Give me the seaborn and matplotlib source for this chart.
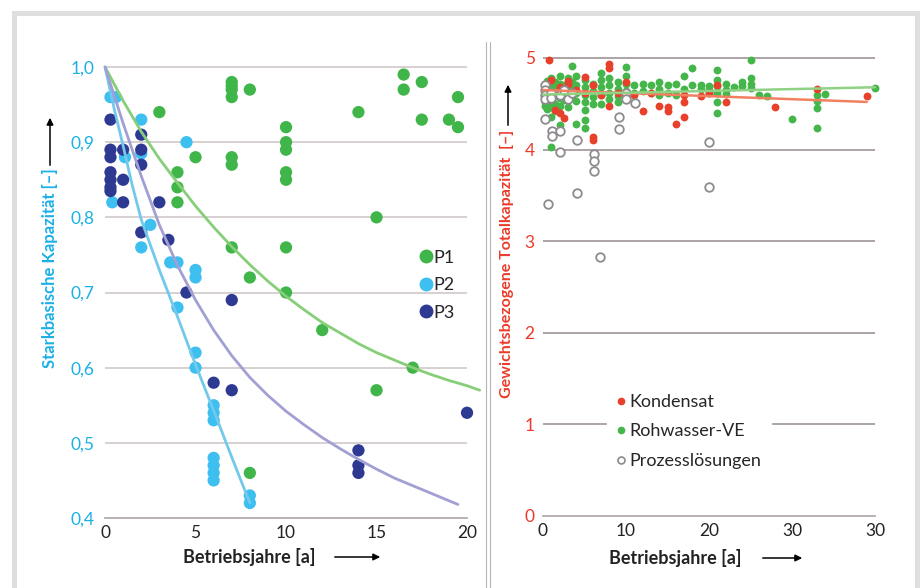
"""Kapazitaet von Anionenaustauschern ueber Betriebsjahre (zwei Panels)."""

import matplotlib
matplotlib.use("Agg")
import matplotlib.pyplot as plt
from matplotlib.lines import Line2D
from matplotlib.patches import Rectangle
import pandas as pd
import seaborn as sns

# ---- linkes Panel: starkbasische Kapazitaet ----
p1_x = [7, 7, 7, 7, 8, 3, 10, 10, 10, 5, 7, 7, 4, 4, 4, 10, 10, 7, 10,
        16.5, 16.5, 17.5, 14, 17.5, 19, 19.5, 19.5, 15, 8, 10, 8, 12, 17, 15]
p1_y = [0.98, 0.975, 0.97, 0.96, 0.97, 0.94, 0.92, 0.90, 0.89, 0.88, 0.88, 0.87,
        0.86, 0.84, 0.82, 0.86, 0.85, 0.76, 0.76,
        0.99, 0.97, 0.98, 0.94, 0.93, 0.93, 0.96, 0.92, 0.80, 0.72, 0.70, 0.46,
        0.65, 0.60, 0.57]

p2_x = [0.3, 0.6, 2, 4.5, 1.1, 2, 0.4, 2.5, 2, 3.6, 4, 5, 5, 4, 5, 5,
        6, 6, 6, 6, 6, 6, 6, 8, 8]
p2_y = [0.96, 0.96, 0.93, 0.90, 0.88, 0.885, 0.82, 0.79, 0.76, 0.74, 0.74,
        0.73, 0.72, 0.68, 0.62, 0.60, 0.55, 0.54, 0.53, 0.48, 0.47, 0.46,
        0.45, 0.43, 0.42]

p3_x = [0.3, 2, 0.3, 0.3, 0.3, 0.3, 0.3, 0.3, 1, 2, 2, 1, 1, 3, 2, 3.5,
        4.5, 7, 6, 7, 14, 14, 14, 20]
p3_y = [0.93, 0.91, 0.89, 0.88, 0.86, 0.85, 0.84, 0.835, 0.89, 0.89, 0.87,
        0.85, 0.82, 0.82, 0.78, 0.77, 0.70, 0.69, 0.58, 0.57, 0.49, 0.47,
        0.46, 0.54]

# Ausgleichskurven
fit1_x = [0, 1, 2, 3, 4, 5, 6, 7, 8, 9, 10, 11, 12, 13, 14, 15, 16, 17, 18,
          19, 20, 20.7]
fit1_y = [1.0, 0.955, 0.914, 0.878, 0.846, 0.815, 0.787, 0.761, 0.737, 0.715,
          0.695, 0.677, 0.660, 0.646, 0.632, 0.620, 0.610, 0.600, 0.591,
          0.583, 0.576, 0.570]
fit2_x = [0, 0.5, 1, 1.5, 2, 3, 4, 5, 6, 7, 8]
fit2_y = [1.0, 0.945, 0.895, 0.843, 0.797, 0.730, 0.668, 0.604, 0.543,
          0.481, 0.420]
fit3_x = [0, 1, 2, 3, 4, 5, 6, 7, 8, 9, 10, 11, 12, 13, 14, 15, 16, 17, 18,
          19, 19.5]
fit3_y = [1.0, 0.925, 0.855, 0.790, 0.736, 0.690, 0.650, 0.616, 0.587, 0.563,
          0.542, 0.524, 0.507, 0.492, 0.478, 0.465, 0.453, 0.443, 0.433,
          0.423, 0.418]

left_yticks = [0.4, 0.5, 0.6, 0.7, 0.8, 0.9, 1.0]
left_yticklabels = ["0,4", "0,5", "0,6", "0,7", "0,8", "0,9", "1,0"]
left_xticks = [0, 5, 10, 15, 20]

# ---- rechtes Panel: gewichtsbezogene Totalkapazitaet ----
rve_x = [0.2, 0.2, 0.2, 0.2, 0.2, 0.2, 0.2,
         0.5, 0.5, 0.5, 0.5, 0.5,
         1, 1, 1, 1, 1, 1, 1,
         1.5, 1.5, 1.5, 1.5, 1.5,
         2, 2, 2, 2, 2, 2,
         2.5, 2.5, 2.5,
         3, 3, 3, 3, 3,
         3.5, 3.5, 3.5, 3.5,
         4, 4, 4, 4, 4,
         5, 5, 5, 5, 5, 5, 5,
         6, 6, 6, 6,
         7, 7, 7, 7, 7,
         8, 8, 8, 8,
         9, 9, 9, 9,
         10, 10, 10, 10, 10,
         11, 11, 12, 12, 13, 13, 14, 14, 14, 15, 15, 16, 16, 17, 17, 18, 18,
         19, 19, 20, 20, 20,
         21, 21, 21, 21, 21, 21,
         22, 22, 22, 23, 24, 24, 25, 25, 25, 25, 26, 27, 30,
         33, 33, 33, 33, 34, 40]
rve_y = [4.72, 4.68, 4.64, 4.60, 4.56, 4.52, 4.48,
         4.75, 4.66, 4.58, 4.50, 4.44,
         4.78, 4.70, 4.62, 4.55, 4.47, 4.36, 4.03,
         4.74, 4.66, 4.58, 4.50, 4.42,
         4.80, 4.72, 4.64, 4.56, 4.48, 4.27,
         4.70, 4.62, 4.54,
         4.78, 4.70, 4.62, 4.55, 4.47,
         4.91, 4.74, 4.66, 4.58,
         4.80, 4.70, 4.62, 4.53, 4.28,
         4.76, 4.68, 4.60, 4.52, 4.43, 4.32, 4.24,
         4.72, 4.64, 4.57, 4.50,
         4.84, 4.76, 4.68, 4.60, 4.50,
         4.78, 4.70, 4.62, 4.55,
         4.74, 4.66, 4.58, 4.52,
         4.90, 4.80, 4.72, 4.64, 4.56,
         4.70, 4.62, 4.72, 4.64, 4.70, 4.62, 4.74, 4.66, 4.60, 4.70, 4.62,
         4.72, 4.60, 4.80, 4.66, 4.89, 4.70,
         4.70, 4.66, 4.69, 4.65, 4.62,
         4.87, 4.76, 4.69, 4.62, 4.52, 4.40,
         4.72, 4.65, 4.61, 4.68, 4.74, 4.69, 4.98, 4.78, 4.72, 4.67, 4.60,
         4.59, 4.33,
         4.60, 4.53, 4.45, 4.24, 4.61, 4.67]

kond_x = [0.7, 0.2, 0.2, 1, 1, 1.5, 2, 2, 2.5, 3, 3, 4, 5, 5, 6, 6, 6, 7,
          8, 8, 8, 9, 10, 10, 11, 12, 13, 14, 15, 15, 16, 17, 17, 17, 19,
          20, 21, 22, 28, 33, 39]
kond_y = [4.98, 4.70, 4.62, 4.76, 4.55, 4.43, 4.40, 4.68, 4.34, 4.75, 4.72,
          4.65, 4.79, 4.62, 4.14, 4.10, 4.70, 4.60, 4.93, 4.89, 4.48, 4.62,
          4.74, 4.58, 4.60, 4.42, 4.62, 4.48, 4.47, 4.42, 4.28, 4.60, 4.52,
          4.36, 4.59, 4.62, 4.70, 4.52, 4.47, 4.66, 4.58]

proz_x = [0.2, 0.2, 0.2, 0.2, 0.24, 0.6, 1, 1, 1.1, 1.1, 2, 2, 2, 2.5, 3,
          3.5, 4.1, 4.1, 6.1, 6.1, 6.1, 6.9, 9.1, 9.1, 10, 10, 11.1, 20, 20]
proz_y = [4.70, 4.65, 4.60, 4.55, 4.33, 3.41, 4.62, 4.56, 4.20, 4.15, 4.20,
          3.97, 4.60, 4.65, 4.55, 4.62, 4.10, 3.53, 3.95, 3.87, 3.77, 2.83,
          4.36, 4.22, 4.62, 4.55, 4.51, 4.08, 3.59]

trend_kond_x = [0, 39]
trend_kond_y = [4.65, 4.52]
trend_rve_x = [0, 40]
trend_rve_y = [4.60, 4.68]

right_yticks = [0, 1, 2, 3, 4, 5]
right_xticks = [0, 10, 20, 30, 40]
right_xticklabels = ["0", "10", "20", "30", "30"]

# Farben
c_p1, c_p2, c_p3 = "#3fb54a", "#3dbfef", "#2e3a92"
c_fit1, c_fit2, c_fit3 = "#86cf78", "#72c9ec", "#a19fd3"
c_cyan, c_red = "#1bb0e6", "#ec3b2a"
c_kond, c_rve, c_proz = "#e8412b", "#45b64a", "#8e8a90"
c_grid = "#cbc3c3"

sns.set_theme(style="white")
plt.rcParams["font.family"] = ["Lato", "DejaVu Sans"]

fig = plt.figure(figsize=(9.23, 5.88), dpi=100)
W, H = 923, 588

# Rahmen und Trennlinie
fig.add_artist(Rectangle((14.5 / W, -0.05), 902 / W, 1.05 - 12.5 / H,
                         transform=fig.transFigure, fill=False,
                         edgecolor="#dedede", linewidth=3.6))
for xp in (486, 489.5):
    fig.add_artist(Line2D([xp / W, xp / W], [0, 1 - 42 / H],
                          transform=fig.transFigure, color="#b5b5b5", lw=0.8))

# ---------- linkes Panel ----------
ax1 = fig.add_axes([96 / W, 70 / H, 385.5 / W, 458.5 / H])
ax1.set_xlim(-0.5, 20.8)
ax1.set_ylim(0.4, 1.01)
ax1.hlines([0.5, 0.6, 0.7, 0.8, 0.9, 1.0], 0, 20, color=c_grid, lw=1.1, zorder=0)

pts = pd.concat([
    pd.DataFrame({"x": p1_x, "y": p1_y, "Probe": "P1"}),
    pd.DataFrame({"x": p2_x, "y": p2_y, "Probe": "P2"}),
    pd.DataFrame({"x": p3_x, "y": p3_y, "Probe": "P3"}),
])
sns.scatterplot(data=pts, x="x", y="y", hue="Probe",
                palette={"P1": c_p1, "P2": c_p2, "P3": c_p3},
                s=78, linewidth=0, legend=False, ax=ax1, clip_on=False, zorder=2)
sns.lineplot(x=fit1_x, y=fit1_y, color=c_fit1, lw=2, ax=ax1, zorder=3, clip_on=False)
sns.lineplot(x=fit2_x, y=fit2_y, color=c_fit2, lw=2, ax=ax1, zorder=3)
sns.lineplot(x=fit3_x, y=fit3_y, color=c_fit3, lw=2, ax=ax1, zorder=3)

ax1.set_yticks(left_yticks)
ax1.set_yticklabels(left_yticklabels)
ax1.set_xticks(left_xticks)
ax1.tick_params(axis="y", length=0, pad=1, labelsize=12.5, labelcolor=c_cyan)
ax1.tick_params(axis="x", direction="in", length=4, color="#b0a8a8",
                pad=5, labelsize=12.5, labelcolor="#222222")
for side in ("top", "right", "left"):
    ax1.spines[side].set_visible(False)
ax1.spines["bottom"].set_bounds(0, 20)
ax1.spines["bottom"].set_color("#b0a8a8")
ax1.set_xlabel("")
ax1.set_ylabel("")

h1 = [Line2D([], [], ls="", marker="o", ms=9, mfc=c, mec=c) for c in (c_p1, c_p2, c_p3)]
ax1.legend(h1, ["P1", "P2", "P3"], loc="upper left", bbox_to_anchor=(0.815, 0.605),
           frameon=False, handlelength=0.7, handletextpad=0.1, labelspacing=0.64,
           borderpad=0, fontsize=13)

# ---------- rechtes Panel ----------
ax2 = fig.add_axes([538.85 / W, 72 / H, 348.6 / W, 467.2 / H])
ax2.set_xlim(-0.5, 41.5)
ax2.set_ylim(0, 5.1)
ax2.hlines([1, 2, 3, 4, 5], 0, 40, color="#aca4a4", lw=1.4, zorder=0)

sns.scatterplot(x=rve_x, y=rve_y, color=c_rve, s=32, linewidth=0, ax=ax2,
                zorder=2, clip_on=False)
sns.scatterplot(x=kond_x, y=kond_y, color=c_kond, s=32, linewidth=0, ax=ax2,
                zorder=3, clip_on=False)
sns.scatterplot(x=proz_x, y=proz_y, s=38, facecolor="white", edgecolor=c_proz,
                linewidth=1.3, ax=ax2, zorder=4, clip_on=False)
sns.lineplot(x=trend_kond_x, y=trend_kond_y, color="#f0805f", lw=1.8, ax=ax2, zorder=5)
sns.lineplot(x=trend_rve_x, y=trend_rve_y, color="#8fd284", lw=1.8, ax=ax2, zorder=5)

ax2.set_yticks(right_yticks)
ax2.set_xticks(right_xticks)
ax2.set_xticklabels(right_xticklabels)
ax2.tick_params(axis="y", length=0, pad=3, labelsize=12.5, labelcolor=c_red)
ax2.tick_params(axis="x", direction="in", length=4, color="#b0a8a8",
                pad=5, labelsize=12.5, labelcolor="#222222")
for side in ("top", "right", "left"):
    ax2.spines[side].set_visible(False)
ax2.spines["bottom"].set_bounds(0, 40)
ax2.spines["bottom"].set_color("#b0a8a8")
ax2.set_xlabel("")
ax2.set_ylabel("")

h2 = [Line2D([], [], ls="", marker="o", ms=4.5, mfc=c_kond, mec=c_kond),
      Line2D([], [], ls="", marker="o", ms=4.5, mfc=c_rve, mec=c_rve),
      Line2D([], [], ls="", marker="o", ms=5, mfc="white", mec=c_proz, mew=1.2)]
leg2 = ax2.legend(h2, ["Kondensat", "Rohwasser-VE", "Prozesslösungen"],
                  loc="upper left", bbox_to_anchor=(0.17, 0.30), frameon=True,
                  handlelength=0.5, handletextpad=0.25, labelspacing=0.75,
                  borderpad=0.5, fontsize=13, framealpha=1, edgecolor="white",
                  facecolor="white")
leg2.set_zorder(6)

# ---------- Achsenbeschriftungen mit Pfeilen ----------
arrow = dict(arrowstyle="-|>", color="black", lw=1.1, mutation_scale=10)
fig.text(50 / W, 1 - 268 / H, "Starkbasische Kapazität [–]", rotation=90,
         ha="center", va="center", color=c_cyan, fontsize=12, fontweight="bold")
fig.text(507 / W, 1 - 264 / H, "Gewichtsbezogene Totalkapazität  [–]", rotation=90,
         ha="center", va="center", color=c_red, fontsize=11.5, fontweight="bold")
fig.text(249 / W, 31 / H, "Betriebsjahre [a]", ha="center", va="center",
         color="#222222", fontsize=13, fontweight="bold")
fig.text(675 / W, 30 / H, "Betriebsjahre [a]", ha="center", va="center",
         color="#222222", fontsize=13, fontweight="bold")
for (x0, y0, x1, y1) in [(50, 420, 50, 473), (508, 460, 508, 506),
                         (332, 31, 383, 31), (760, 30, 805, 30)]:
    ax1.annotate("", xy=(x1, y1), xytext=(x0, y0), xycoords="figure pixels",
                 textcoords="figure pixels", arrowprops=arrow)

fig.savefig("out.png", dpi=100)
